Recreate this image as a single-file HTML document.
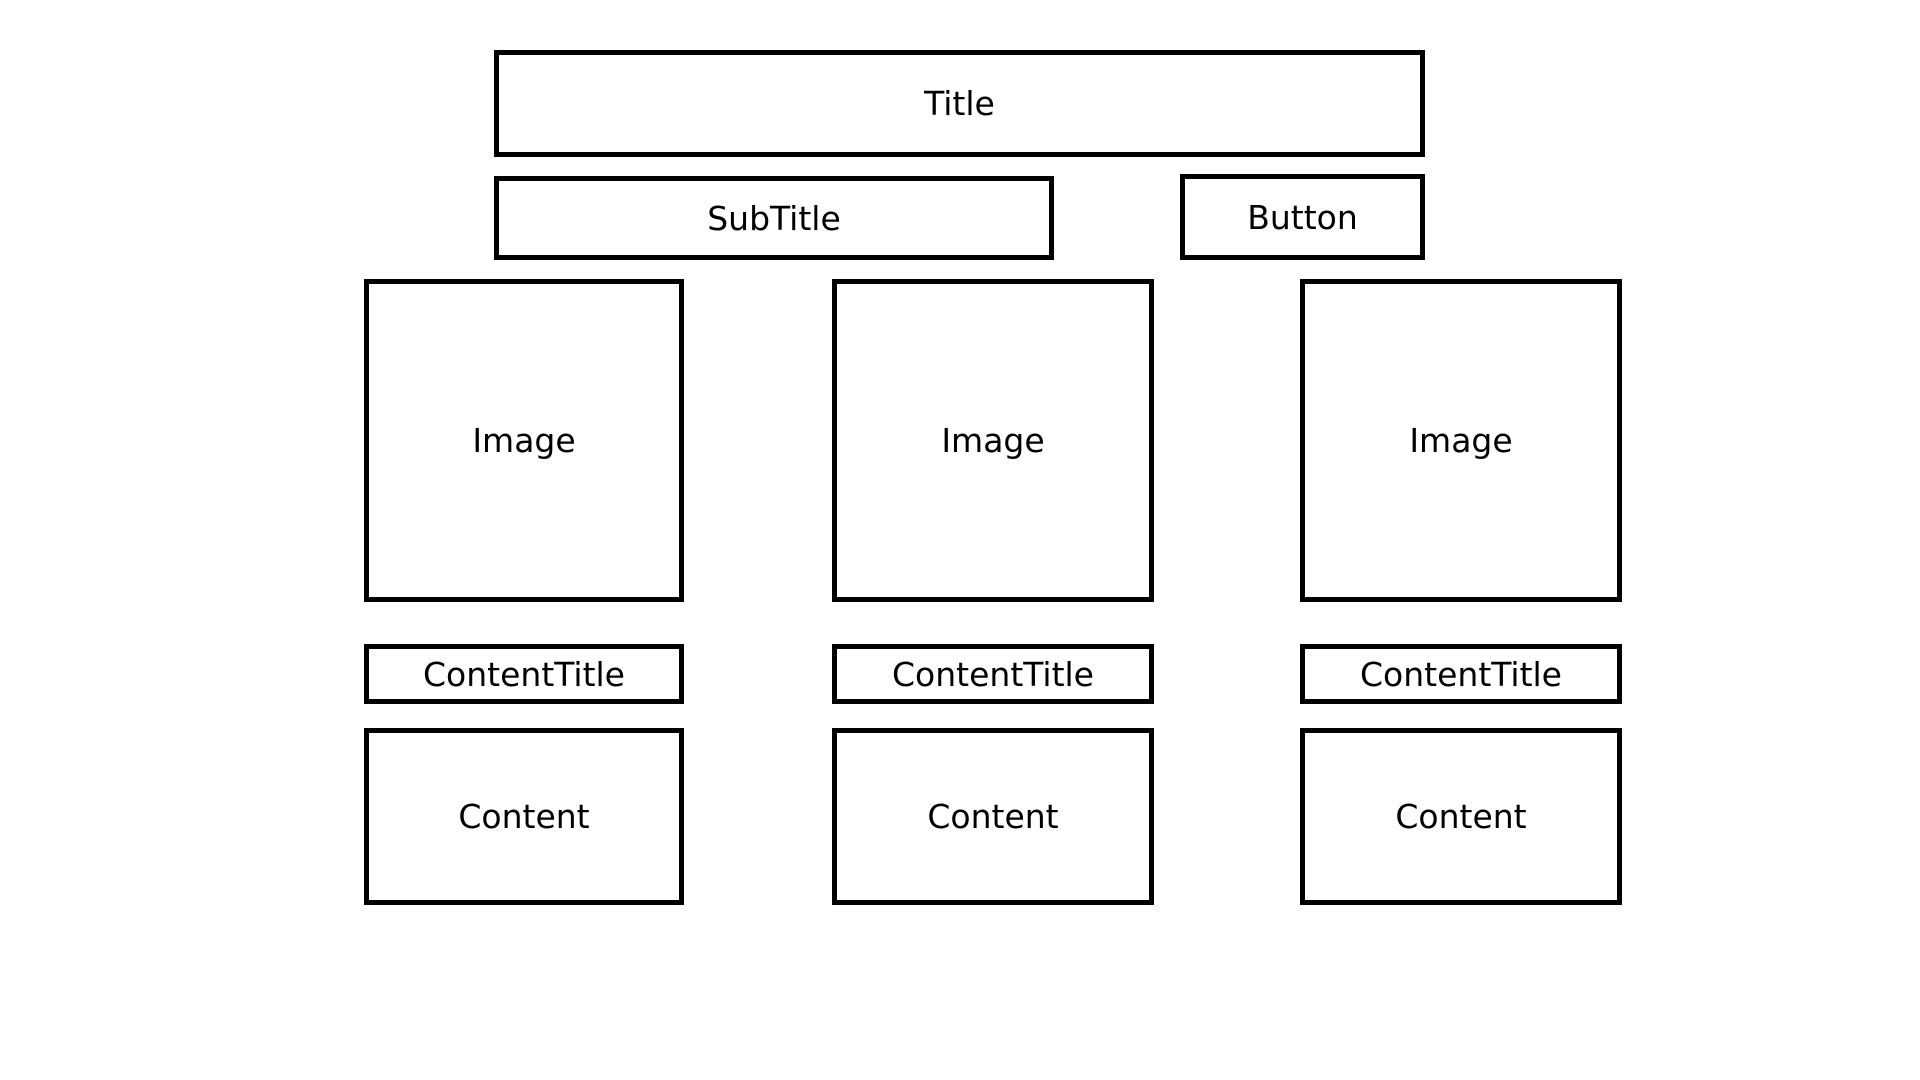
<!DOCTYPE html>
<html><head><meta charset="utf-8"><style>
html,body{margin:0;padding:0;background:#fff;width:1920px;height:1080px;overflow:hidden}
.b{position:absolute;box-sizing:border-box;border:5px solid #000;display:flex;align-items:center;justify-content:center;font-family:"DejaVu Sans","Liberation Sans",sans-serif;font-size:33px;color:#000;font-weight:normal}
</style></head><body>
<div class="b" style="left:494px;top:50px;width:931px;height:107px">Title</div>
<div class="b" style="left:494px;top:176px;width:560px;height:84px">SubTitle</div>
<div class="b" style="left:1180px;top:174px;width:245px;height:86px">Button</div>

<div class="b" style="left:364px;top:279px;width:320px;height:323px">Image</div>
<div class="b" style="left:832px;top:279px;width:322px;height:323px">Image</div>
<div class="b" style="left:1300px;top:279px;width:322px;height:323px">Image</div>

<div class="b" style="left:364px;top:644px;width:320px;height:60px">ContentTitle</div>
<div class="b" style="left:832px;top:644px;width:322px;height:60px">ContentTitle</div>
<div class="b" style="left:1300px;top:644px;width:322px;height:60px">ContentTitle</div>

<div class="b" style="left:364px;top:728px;width:320px;height:177px">Content</div>
<div class="b" style="left:832px;top:728px;width:322px;height:177px">Content</div>
<div class="b" style="left:1300px;top:728px;width:322px;height:177px">Content</div>
</body></html>
